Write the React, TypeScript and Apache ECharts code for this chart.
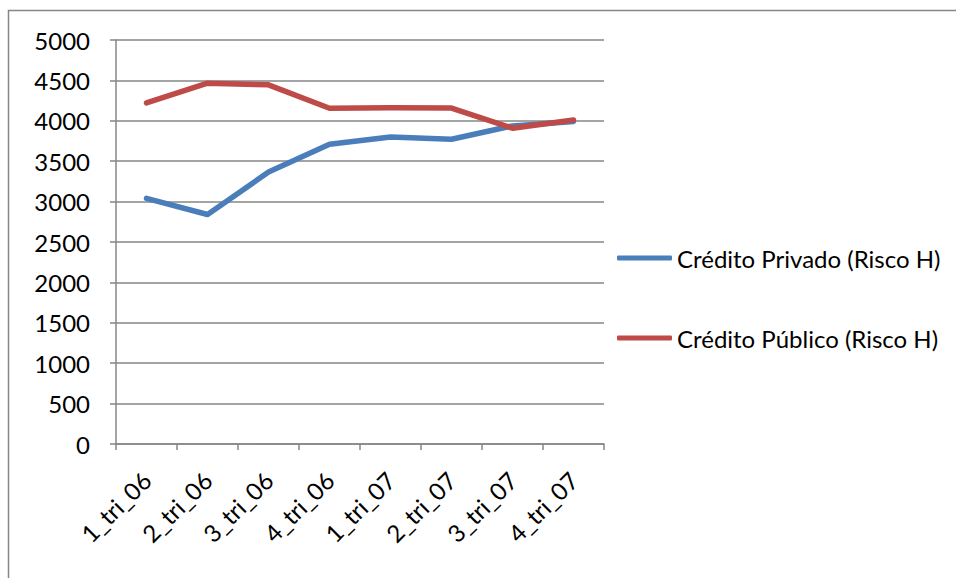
import React, { useEffect, useRef } from "react";
import * as echarts from "echarts";

const categories = ["1_tri_06", "2_tri_06", "3_tri_06", "4_tri_06", "1_tri_07", "2_tri_07", "3_tri_07", "4_tri_07"];
const privado = [3040, 2840, 3365, 3710, 3800, 3772, 3937, 3992];
const publico = [4222, 4465, 4445, 4156, 4160, 4158, 3908, 4010];
const seriesNames = ["Crédito Privado (Risco H)", "Crédito Público (Risco H)"];
const FONT = "Lato, 'Open Sans', sans-serif";

export default function App() {
  const ref = useRef<HTMLDivElement>(null);
  useEffect(() => {
    if (!ref.current) return;
    const chart = echarts.init(ref.current, null, { renderer: "svg" });
    chart.setOption({
      animation: false,
      backgroundColor: "#ffffff",
      textStyle: { fontFamily: FONT },
      graphic: [
        {
          type: "rect",
          shape: { x: 8.5, y: 10.5, width: 1200, height: 1200 },
          style: { fill: "none", stroke: "#868686", lineWidth: 1.5 },
          silent: true,
        },
      ],
      grid: { left: 116, top: 40, width: 488, height: 404, containLabel: false },
      legend: {
        orient: "vertical",
        left: 617,
        top: 246,
        padding: 0,
        itemWidth: 55,
        itemHeight: 5,
        itemGap: 56,
        icon: "roundRect",
        textStyle: { fontFamily: FONT, fontSize: 24, color: "#000", lineHeight: 24 },
        data: seriesNames,
      },
      xAxis: {
        type: "category",
        data: categories,
        boundaryGap: true,
        axisLine: { lineStyle: { color: "#868686", width: 1.5 } },
        axisTick: { show: true, length: 6, lineStyle: { color: "#868686", width: 1.5 } },
        axisLabel: { rotate: 45, fontSize: 24, color: "#000", margin: 32, fontFamily: FONT, interval: 0 },
        splitLine: { show: false },
      },
      yAxis: {
        type: "value",
        min: 0,
        max: 5000,
        interval: 500,
        axisLine: { show: true, lineStyle: { color: "#868686", width: 1.5 } },
        axisTick: { show: true, length: 6, lineStyle: { color: "#868686", width: 1.5 } },
        axisLabel: { fontSize: 24, color: "#000", margin: 26, fontFamily: FONT, formatter: (v: number) => String(v) },
        splitLine: { show: true, lineStyle: { color: "#868686", width: 1.5 } },
      },
      series: [
        {
          name: seriesNames[0],
          type: "line",
          data: privado,
          showSymbol: false,
          symbol: "none",
          itemStyle: { color: "#4A7EBB" },
          lineStyle: { color: "#4A7EBB", width: 5.5, cap: "round", join: "round" },
        },
        {
          name: seriesNames[1],
          type: "line",
          data: publico,
          showSymbol: false,
          symbol: "none",
          itemStyle: { color: "#BE4B48" },
          lineStyle: { color: "#BE4B48", width: 5.5, cap: "round", join: "round" },
        },
      ],
    });
    return () => chart.dispose();
  }, []);
  return <div ref={ref} style={{ position: "fixed", left: 0, top: 0, width: 956, height: 578 }} />;
}
